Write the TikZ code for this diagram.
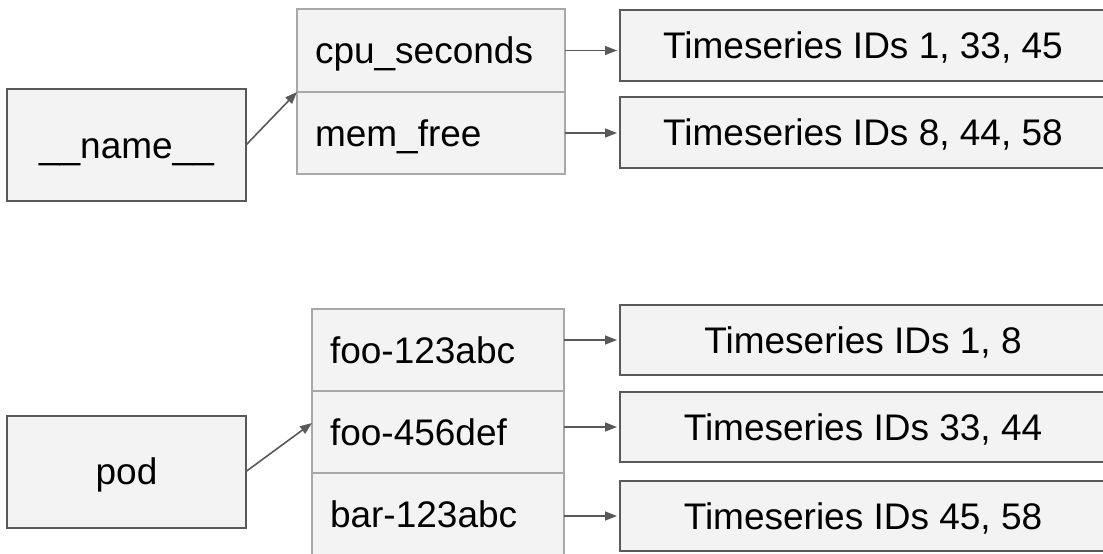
\documentclass[tikz,border=0pt]{standalone}
\usepackage{fontspec}
\setmainfont{Liberation Sans}
\usetikzlibrary{arrows.meta,calc}
\definecolor{boxfill}{HTML}{F3F3F3}
\definecolor{darkline}{HTML}{595959}
\definecolor{lightline}{HTML}{A8A8A8}
\begin{document}
\begin{tikzpicture}[x=1pt,y=-1pt,
  font=\fontsize{37}{44}\selectfont,
  every node/.style={inner sep=0pt, outer sep=0pt, text height=26.5pt, text depth=0pt},
  labelbox/.style={draw=darkline, line width=2pt, fill=boxfill,
    minimum width=239pt, minimum height=112pt},
  idbox/.style={draw=darkline, line width=2pt, fill=boxfill,
    minimum width=486pt, minimum height=70pt},
  valrow/.style={draw=lightline, line width=2pt, fill=boxfill,
    minimum height=82pt, text width=#1-36pt, align=left, inner xsep=18pt},
  link/.style={draw=darkline, line width=1.6pt,
    -{Triangle[length=12pt,width=9pt]}},
]
\useasboundingbox (0,0) rectangle (1103,554);

% ---- __name__ index ----
\node[labelbox] (name) at (126.5,145) {\_\_name\_\_};
\node[valrow=268pt, minimum height=83pt] (cpu) at (431,50.5) {cpu\_seconds};
\node[valrow=268pt] (mem) at (431,133) {mem\_free};
\node[idbox, minimum height=71pt] (ts1) at (863,45.5) {Timeseries IDs 1, 33, 45};
\node[idbox, minimum height=71pt] (ts2) at (863,132.5) {Timeseries IDs 8, 44, 58};

\draw[link] (name.east) -- (cpu.south west);
\draw[link, shorten >=3pt] (cpu.east) -- (cpu.east -| ts1.west);
\draw[link, shorten >=3pt] (mem.east) -- (mem.east -| ts2.west);

% ---- pod index ----
\node[labelbox] (pod) at (126.5,471.5) {pod};
\node[valrow=252pt] (foo1) at (438,350) {foo-123abc};
\node[valrow=252pt] (foo2) at (438,432) {foo-456def};
\node[valrow=252pt] (bar1) at (438,514) {bar-123abc};
\node[idbox] (ts3) at (863,340) {Timeseries IDs 1, 8};
\node[idbox] (ts4) at (863,427) {Timeseries IDs 33, 44};
\node[idbox] (ts5) at (863,516) {Timeseries IDs 45, 58};

\coordinate (podin) at ($(foo2.west)+(0,-9)$);
\draw[link] (pod.east) -- (podin);
\draw[link, shorten >=3pt] (ts3.west -| foo1.east) -- (ts3.west);
\draw[link, shorten >=3pt] (ts4.west -| foo2.east) -- (ts4.west);
\draw[link, shorten >=3pt] (ts5.west -| bar1.east) -- (ts5.west);
\end{tikzpicture}
\end{document}
